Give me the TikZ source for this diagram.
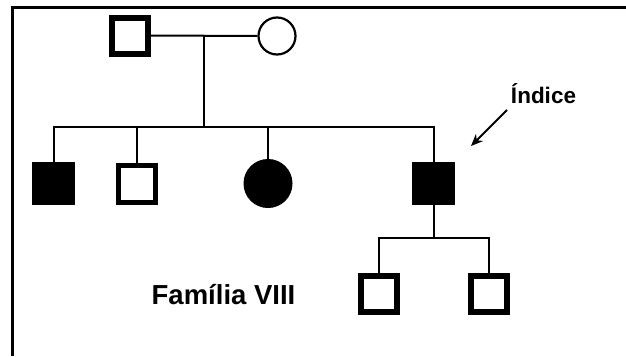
\documentclass[tikz,border=0pt]{standalone}
\usepackage{fontspec}
\setmainfont{Liberation Sans}
\usetikzlibrary{arrows.meta}
\begin{document}
\begin{tikzpicture}[x=1pt,y=-1pt,
  conn/.style={line width=2pt},
  opensq/.style={draw,rectangle,line width=6pt,minimum size=36pt,inner sep=0pt,fill=white},
  fullsq/.style={draw,rectangle,line width=1pt,minimum size=42pt,inner sep=0pt,fill=black},
  opencirc/.style={draw,circle,line width=2.2pt,minimum size=37pt,inner sep=0pt,fill=white},
  fullcirc/.style={draw,circle,line width=1pt,minimum size=48pt,inner sep=0pt,fill=black},
  lbl/.style={font=\bfseries,inner sep=0pt}]
\useasboundingbox (0,0) rectangle (626,356);
\fill[white] (0,0) rectangle (626,356);
\coordinate (tl) at (12,7);
\coordinate (tr) at (626,7);
\coordinate (bl) at (12,356);
\draw[line width=3pt] (tr) -- (tl) -- (bl);
% parents
\node[opensq] (f) at (130,35.5) {};
\node[opencirc] (m) at (277,36) {};
\coordinate (mid) at (204,36);
\coordinate (sib) at (204,127);
\draw[conn] (f.east) -- (m.west);
\draw[conn] (mid) -- (sib);
% children
\node[fullsq] (c1) at (53.5,183.5) {};
\node[opensq,line width=5pt,minimum size=37pt] (c2) at (137,183.5) {};
\node[fullcirc] (c3) at (268,183.5) {};
\node[fullsq] (c4) at (433.5,183.5) {};
\draw[conn] (c1.north) |- (sib) -| (c4.north);
\draw[conn] (c2.north) -- (c2.north |- sib);
\draw[conn] (c3.north) -- (c3.north |- sib);
% grandchildren
\node[opensq] (g1) at (378.5,293.5) {};
\node[opensq] (g2) at (488.5,293.5) {};
\coordinate (gs) at (433.5,238);
\draw[conn] (c4.south) -- (gs);
\draw[conn] (g1.north) |- (gs) -| (g2.north);
% labels
\node[lbl,font=\bfseries\fontsize{22.5}{24}\selectfont] (idx) at (543.5,94) {Índice};
\coordinate (a1) at (507,110);
\coordinate (a2) at (471,146);
\draw[conn,-{Stealth[length=12pt,width=10pt]}] (a1) -- (a2);
\node[lbl,font=\bfseries\fontsize{27.5}{29}\selectfont] (fam) at (223.5,294.5) {Família VIII};
\end{tikzpicture}
\end{document}
